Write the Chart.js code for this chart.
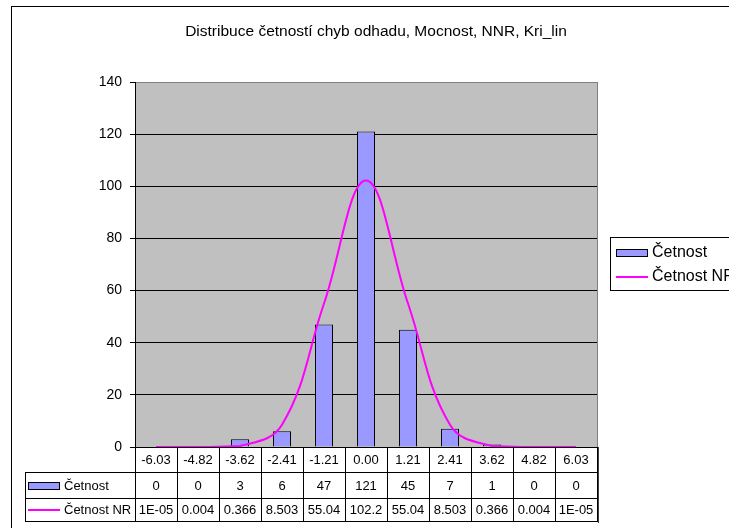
<!DOCTYPE html>
<html>
<head>
<meta charset="utf-8">
<script src="https://cdn.jsdelivr.net/npm/chart.js@4/dist/chart.umd.min.js"></script>
<style>
  html, body { margin: 0; padding: 0; background: #fff; }
  #wrap { width: 729px; height: 528px; position: relative; }
</style>
</head>
<body>
<div id="wrap"><canvas id="c" width="729" height="528"></canvas></div>
<script>
// ---- data ----
const chartTitle = 'Distribuce četností chyb odhadu, Mocnost, NNR, Kri_lin';
const categories = ['-6.03', '-4.82', '-3.62', '-2.41', '-1.21', '0.00', '1.21', '2.41', '3.62', '4.82', '6.03'];
const cetnost = [0, 0, 3, 6, 47, 121, 45, 7, 1, 0, 0];
const cetnostNR = [0.00001, 0.004, 0.366, 8.503, 55.04, 102.2, 55.04, 8.503, 0.366, 0.004, 0.00001];
const cetnostLabels = ['0', '0', '3', '6', '47', '121', '45', '7', '1', '0', '0'];
const cetnostNRLabels = ['1E-05', '0.004', '0.366', '8.503', '55.04', '102.2', '55.04', '8.503', '0.366', '0.004', '1E-05'];
const seriesNames = ['Četnost', 'Četnost NR'];
const yMin = 0, yMax = 140, yStep = 20;

const FONT = 'Arial, "Liberation Sans", sans-serif';
const BAR_COLOR = '#9999ff';
const LINE_COLOR = '#ff00ff';

const decorPlugin = {
  id: 'decor',
  beforeDraw(chart) {
    const ctx = chart.ctx;
    const a = chart.chartArea;
    ctx.save();
    ctx.fillStyle = '#ffffff';
    ctx.fillRect(0, 0, chart.width, chart.height);
    // outer border
    ctx.strokeStyle = '#000';
    ctx.lineWidth = 1;
    ctx.strokeRect(11.5, 6.5, 900, 700);
    // plot background
    ctx.fillStyle = '#c0c0c0';
    ctx.fillRect(a.left, a.top, a.right - a.left, a.bottom - a.top);
    ctx.restore();
  },
  afterDraw(chart) {
    const ctx = chart.ctx;
    const a = chart.chartArea;
    const xs = chart.scales.x;
    const n = categories.length;
    const w = (xs.right - xs.left) / n;
    ctx.save();
    // right plot border (gray)
    ctx.strokeStyle = '#808080';
    ctx.lineWidth = 1;
    ctx.beginPath();
    ctx.moveTo(a.right + 0.5, a.top);
    ctx.lineTo(a.right + 0.5, a.bottom);
    ctx.stroke();

    // title
    ctx.fillStyle = '#000';
    ctx.font = '15.5px ' + FONT;
    ctx.textAlign = 'center';
    ctx.textBaseline = 'middle';
    ctx.fillText(chartTitle, 376, 32);

    // data table
    const r0 = a.bottom, r1 = 472, r2 = 498, r3 = 521;
    const tLeft = 25;
    ctx.strokeStyle = '#000';
    ctx.lineWidth = 1;
    ctx.beginPath();
    ctx.moveTo(xs.left, r0 + 0.5); ctx.lineTo(xs.right, r0 + 0.5);
    ctx.moveTo(tLeft, r1 + 0.5); ctx.lineTo(xs.right, r1 + 0.5);
    ctx.moveTo(tLeft, r2 + 0.5); ctx.lineTo(xs.right, r2 + 0.5);
    ctx.moveTo(tLeft, r3 + 0.5); ctx.lineTo(xs.right, r3 + 0.5);
    ctx.moveTo(tLeft + 0.5, r1); ctx.lineTo(tLeft + 0.5, r3 + 1);
    for (let i = 0; i <= n; i++) {
      const xx = Math.round(xs.left + i * w) + 0.5;
      ctx.moveTo(xx, r0); ctx.lineTo(xx, r3 + 1);
    }
    ctx.stroke();
    ctx.strokeStyle = '#404040';
    ctx.beginPath();
    ctx.moveTo(Math.round(xs.right) + 1.5, r0); ctx.lineTo(Math.round(xs.right) + 1.5, r3 + 2);
    ctx.stroke();

    ctx.fillStyle = '#000';
    ctx.font = '13px ' + FONT;
    ctx.textAlign = 'center';
    ctx.textBaseline = 'middle';
    for (let i = 0; i < n; i++) {
      const cx = xs.getPixelForValue(i);
      ctx.fillText(categories[i], cx, (r0 + r1) / 2 + 1);
      ctx.fillText(cetnostLabels[i], cx, (r1 + r2) / 2 + 1);
      ctx.fillText(cetnostNRLabels[i], cx, (r2 + r3) / 2 + 1);
    }
    ctx.textAlign = 'left';
    ctx.fillStyle = BAR_COLOR;
    ctx.fillRect(28, 482, 31, 7);
    ctx.strokeStyle = '#000';
    ctx.strokeRect(28.5, 482.5, 31, 7);
    ctx.fillStyle = '#000';
    ctx.fillText(seriesNames[0], 64, (r1 + r2) / 2 + 1);
    ctx.strokeStyle = LINE_COLOR;
    ctx.lineWidth = 2;
    ctx.beginPath();
    ctx.moveTo(28, 510); ctx.lineTo(60, 510);
    ctx.stroke();
    ctx.fillText(seriesNames[1], 64, (r2 + r3) / 2 + 1);

    // legend
    ctx.lineWidth = 1;
    ctx.fillStyle = '#fff';
    ctx.fillRect(610, 237, 200, 53);
    ctx.strokeStyle = '#000';
    ctx.strokeRect(610.5, 237.5, 200, 53);
    ctx.fillStyle = BAR_COLOR;
    ctx.fillRect(616, 249, 31, 7);
    ctx.strokeRect(616.5, 249.5, 31, 7);
    ctx.fillStyle = '#000';
    ctx.font = '16px ' + FONT;
    ctx.fillText(seriesNames[0], 652, 253);
    ctx.strokeStyle = LINE_COLOR;
    ctx.lineWidth = 2;
    ctx.beginPath();
    ctx.moveTo(616, 277); ctx.lineTo(648, 277);
    ctx.stroke();
    ctx.fillText(seriesNames[1], 652, 277);
    ctx.restore();
  }
};

new Chart(document.getElementById('c'), {
  type: 'bar',
  data: {
    labels: categories,
    datasets: [
      {
        type: 'line',
        label: seriesNames[1],
        data: cetnostNR,
        borderColor: LINE_COLOR,
        backgroundColor: LINE_COLOR,
        borderWidth: 2,
        pointRadius: 0,
        tension: 0.4,
        fill: false,
        order: 0
      },
      {
        type: 'bar',
        label: seriesNames[0],
        data: cetnost,
        backgroundColor: BAR_COLOR,
        borderColor: '#000',
        borderWidth: 1,
        barPercentage: 0.43,
        categoryPercentage: 1,
        order: 1
      }
    ]
  },
  options: {
    responsive: false,
    animation: false,
    devicePixelRatio: 1,
    layout: { padding: { left: 20, right: 132, top: 82, bottom: 81 } },
    plugins: {
      legend: { display: false },
      title: { display: false },
      tooltip: { enabled: false }
    },
    scales: {
      x: { display: false },
      y: {
        min: yMin, max: yMax,
        afterFit(scale) { scale.width = 115; },
        ticks: { stepSize: yStep, color: '#000', font: { family: FONT, size: 14 }, padding: 8 },
        grid: {
          color: (c) => (c.tick && c.tick.value === yMax ? '#808080' : '#000'),
          tickColor: '#000',
          tickLength: 5,
          lineWidth: 1
        },
        border: { color: '#000', width: 1 }
      }
    }
  },
  plugins: [decorPlugin]
});
</script>
</body>
</html>
